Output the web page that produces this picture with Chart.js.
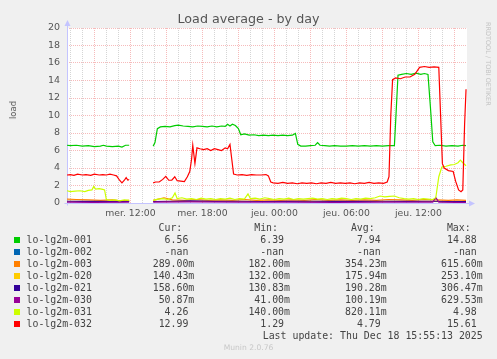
<!doctype html>
<html lang="fr">
  <head>
    <meta charset="utf-8" />
    <title>Load average - by day</title>
    <style>
      html,
      body {
        margin: 0;
        padding: 0;
        background: #f0f0f0;
      }

      .graph {
        position: relative;
        width: 497px;
        height: 359px;
        overflow: hidden;
        font-family: "DejaVu Sans", sans-serif;
        color: #555555;
      }

      #loadChart {
        position: absolute;
        left: 0;
        top: 0;
      }

      .graph-title {
        position: absolute;
        left: 0;
        top: 11px;
        width: 497px;
        text-align: center;
        font-size: 12.7px;
        line-height: 16px;
      }

      .axis-title {
        position: absolute;
        left: 12.5px;
        top: 110px;
        transform: translate(-50%, -50%) rotate(-90deg);
        font-size: 8.5px;
        white-space: nowrap;
      }

      .rrd-credit {
        position: absolute;
        left: 491px;
        top: 22px;
        transform-origin: 0 0;
        transform: rotate(90deg);
        font-size: 6.5px;
        line-height: 7px;
        color: #c4c4c4;
        white-space: nowrap;
      }

      .legend-row {
        position: absolute;
        left: 0;
        width: 497px;
        height: 12px;
        font-family: "DejaVu Sans Mono", monospace;
        font-size: 9.9px;
        line-height: 12px;
        color: #444444;
        white-space: pre;
      }

      .legend-row span {
        position: absolute;
        top: 0;
      }

      .legend-box {
        position: absolute;
        left: 14px;
        top: 3px;
        width: 6px;
        height: 6px;
      }

      .munin-version {
        position: absolute;
        left: 0;
        top: 343px;
        width: 497px;
        text-align: center;
        font-size: 7.6px;
        line-height: 10px;
        color: #c8c8c8;
      }
    </style>
  </head>

  <body>
    <div class="graph">
      <canvas id="loadChart" width="497" height="359"></canvas>
      <div class="graph-title">Load average - by day</div>
      <div class="axis-title">load</div>
      <div class="rrd-credit">RRDTOOL / TOBI OETIKER</div>
      <div id="legend"></div>
      <div class="munin-version">Munin 2.0.76</div>
    </div>

    <script src="https://cdn.jsdelivr.net/npm/chart.js@4.4.0/dist/chart.umd.min.js"></script>
    <script type="text/javascript">
      // time axis: hours counted from Wednesday 00:00
      const xMin = 6.72;
      const xMax = 40.05;
      const xTickHours = [12, 18, 24, 30, 36];
      const xTickLabels = ["mer. 12:00", "mer. 18:00", "jeu. 00:00", "jeu. 06:00", "jeu. 12:00"];
      const yTickValues = [0, 2, 4, 6, 8, 10, 12, 14, 16, 18, 20];

      const seriesNames = ["lo-lg2m-001", "lo-lg2m-002", "lo-lg2m-003", "lo-lg2m-020", "lo-lg2m-021", "lo-lg2m-030", "lo-lg2m-031", "lo-lg2m-032"];
      const seriesColors = ["#00cc00", "#0066b3", "#ff8000", "#ffcc00", "#330099", "#990099", "#ccff00", "#ff0000"];
      const curValues = ["6.56", "-nan", "289.00m", "140.43m", "158.60m", "50.87m", "4.26", "12.99"];
      const minValues = ["6.39", "-nan", "182.00m", "132.00m", "130.83m", "41.00m", "140.00m", "1.29"];
      const avgValues = ["7.94", "-nan", "354.23m", "175.94m", "190.28m", "100.19m", "820.11m", "4.79"];
      const maxValues = ["14.88", "-nan", "615.60m", "253.10m", "306.47m", "629.53m", "4.98", "15.61"];

      // [hour, load] pairs, null = no data
      const lo001 = [
        [6.72, 6.6], [7.0, 6.55], [7.5, 6.6], [8.0, 6.5], [8.5, 6.55], [9.0, 6.45], [9.5, 6.5], [9.75, 6.6],
        [10.0, 6.5], [10.5, 6.45], [11.0, 6.5], [11.3, 6.4], [11.6, 6.6], [11.9, 6.6], [12.8, null],
        [13.9, 6.5], [14.05, 6.9], [14.25, 8.5], [14.5, 8.7], [14.9, 8.75], [15.3, 8.7], [15.7, 8.85], [16.0, 8.9],
        [16.4, 8.8], [16.8, 8.75], [17.2, 8.7], [17.6, 8.8], [18.0, 8.75], [18.4, 8.7], [18.8, 8.8], [19.2, 8.7],
        [19.6, 8.8], [19.9, 8.75], [20.1, 9.0], [20.3, 8.8], [20.5, 9.0], [20.75, 8.85], [21.0, 8.5], [21.2, 7.8],
        [21.5, 7.9], [21.9, 7.75], [22.3, 7.8], [22.7, 7.7], [23.1, 7.75], [23.5, 7.7], [23.9, 7.75], [24.3, 7.7],
        [24.7, 7.75], [25.1, 7.7], [25.5, 7.75], [25.75, 7.95], [25.95, 6.7], [26.2, 6.5], [26.6, 6.5], [27.0, 6.55],
        [27.4, 6.6], [27.6, 6.9], [27.8, 6.6], [28.2, 6.55], [28.6, 6.5], [29.0, 6.55], [29.5, 6.5], [30.0, 6.5],
        [30.5, 6.55], [31.0, 6.5], [31.5, 6.55], [32.0, 6.5], [32.5, 6.55], [33.0, 6.5], [33.5, 6.55], [34.0, 6.55],
        [34.15, 10.5], [34.3, 14.6], [34.6, 14.7], [35.0, 14.8], [35.4, 14.7], [35.8, 14.85], [36.2, 14.7], [36.5, 14.8],
        [36.8, 14.7], [37.0, 11.0], [37.2, 7.0], [37.4, 6.55], [37.8, 6.6], [38.3, 6.5], [38.8, 6.55], [39.3, 6.5],
        [39.7, 6.6], [39.97, 6.56],
      ];
      const lo002 = [];
      const lo003 = [
        [6.72, 0.45], [7.5, 0.4], [8.5, 0.35], [9.5, 0.3], [10.5, 0.35], [11.2, 0.25], [11.9, 0.3], [12.8, null],
        [13.9, 0.3], [14.8, 0.6], [15.5, 0.35], [16.5, 0.3], [17.5, 0.4], [18.5, 0.3], [19.5, 0.35], [20.5, 0.3],
        [21.5, 0.4], [22.5, 0.3], [23.5, 0.35], [24.5, 0.3], [25.5, 0.35], [26.5, 0.3], [27.5, 0.4], [28.5, 0.3],
        [29.5, 0.35], [30.5, 0.3], [31.5, 0.35], [32.5, 0.3], [33.5, 0.4], [34.5, 0.35], [35.5, 0.3], [36.5, 0.4],
        [37.5, 0.35], [38.5, 0.3], [39.2, 0.35], [39.97, 0.29],
      ];
      const lo020 = [
        [6.72, 0.2], [8.0, 0.18], [9.5, 0.2], [11.0, 0.17], [11.9, 0.18], [12.8, null],
        [13.9, 0.17], [15.5, 0.2], [17.0, 0.18], [19.0, 0.22], [21.0, 0.18], [23.0, 0.19], [25.0, 0.17], [27.0, 0.18],
        [29.0, 0.2], [31.0, 0.17], [33.0, 0.18], [35.0, 0.2], [37.0, 0.18], [38.5, 0.16], [39.97, 0.14],
      ];
      const lo021 = [
        [6.72, 0.2], [8.0, 0.18], [9.5, 0.2], [11.0, 0.16], [11.9, 0.18], [12.8, null],
        [13.9, 0.17], [15.5, 0.2], [17.0, 0.25], [19.0, 0.18], [21.0, 0.2], [23.0, 0.17], [25.0, 0.19], [27.0, 0.2],
        [29.0, 0.18], [31.0, 0.19], [33.0, 0.2], [35.0, 0.18], [37.0, 0.2], [38.5, 0.17], [39.97, 0.16],
      ];
      const lo030 = [
        [6.72, 0.1], [9.0, 0.08], [11.9, 0.09], [12.8, null],
        [13.9, 0.1], [17.0, 0.12], [21.0, 0.09], [25.0, 0.1], [29.0, 0.08], [33.0, 0.1], [37.2, 0.1], [37.45, 0.63],
        [37.7, 0.1], [39.97, 0.05],
      ];
      const lo031 = [
        [6.72, 1.4], [7.0, 1.3], [7.4, 1.35], [7.8, 1.4], [8.2, 1.3], [8.5, 1.45], [8.8, 1.5], [8.95, 1.9],
        [9.1, 1.6], [9.4, 1.65], [9.7, 1.55], [9.85, 1.5], [10.0, 0.4], [10.3, 0.3], [10.7, 0.35], [11.1, 0.25],
        [11.5, 0.35], [11.9, 0.3], [12.8, null],
        [13.9, 0.3], [14.3, 0.45], [14.7, 0.5], [15.1, 0.4], [15.5, 0.6], [15.72, 1.15], [15.9, 0.5], [16.3, 0.6],
        [16.7, 0.45], [17.1, 0.5], [17.5, 0.4], [17.9, 0.55], [18.3, 0.45], [18.7, 0.5], [19.1, 0.4], [19.5, 0.5],
        [19.9, 0.45], [20.3, 0.55], [20.7, 0.4], [21.1, 0.5], [21.5, 0.45], [21.8, 1.05], [22.0, 0.5], [22.4, 0.55],
        [22.8, 0.45], [23.2, 0.6], [23.6, 0.5], [24.0, 0.4], [24.4, 0.5], [24.8, 0.45], [25.2, 0.55], [25.6, 0.4],
        [26.0, 0.5], [26.4, 0.45], [26.8, 0.5], [27.2, 0.55], [27.6, 0.45], [28.0, 0.5], [28.4, 0.4], [28.8, 0.5],
        [29.2, 0.45], [29.6, 0.55], [30.0, 0.5], [30.4, 0.4], [30.8, 0.5], [31.2, 0.45], [31.6, 0.55], [32.0, 0.5],
        [32.4, 0.6], [32.8, 0.8], [33.2, 0.7], [33.6, 0.75], [34.0, 0.8], [34.4, 0.6], [34.8, 0.5], [35.2, 0.45],
        [35.6, 0.5], [36.0, 0.4], [36.4, 0.5], [36.8, 0.45], [37.2, 0.4], [37.45, 0.6], [37.7, 3.0], [37.95, 4.1],
        [38.3, 4.2], [38.7, 4.35], [39.0, 4.4], [39.3, 4.6], [39.5, 4.9], [39.7, 4.6], [39.97, 4.26],
      ];
      const lo032 = [
        [6.72, 3.2], [7.0, 3.25], [7.3, 3.15], [7.6, 3.3], [8.0, 3.2], [8.3, 3.25], [8.7, 3.15], [9.0, 3.3],
        [9.4, 3.2], [9.7, 3.25], [10.0, 3.2], [10.3, 3.3], [10.6, 3.2], [10.85, 3.1], [11.1, 2.6], [11.3, 2.3],
        [11.5, 2.6], [11.65, 2.9], [11.8, 2.6], [11.9, 2.7], [12.8, null],
        [13.9, 2.3], [14.1, 2.4], [14.4, 2.4], [14.7, 2.7], [14.95, 3.05], [15.2, 2.6], [15.45, 2.6], [15.7, 3.0],
        [15.9, 2.55], [16.2, 2.5], [16.5, 2.45], [16.75, 3.0], [16.95, 3.6], [17.1, 5.0], [17.2, 6.6], [17.38, 4.5],
        [17.55, 6.3], [17.8, 6.2], [18.1, 6.1], [18.4, 6.2], [18.7, 6.0], [19.0, 6.2], [19.3, 6.1], [19.6, 6.0],
        [19.9, 6.3], [20.1, 6.2], [20.3, 6.7], [20.45, 5.0], [20.6, 3.3], [20.9, 3.2], [21.3, 3.25], [21.7, 3.15],
        [22.1, 3.25], [22.5, 3.2], [22.9, 3.2], [23.3, 3.25], [23.5, 3.1], [23.7, 2.4], [23.9, 2.3], [24.3, 2.25],
        [24.7, 2.35], [25.1, 2.25], [25.5, 2.3], [25.9, 2.2], [26.3, 2.3], [26.7, 2.25], [27.1, 2.3], [27.5, 2.2],
        [27.9, 2.3], [28.3, 2.25], [28.7, 2.35], [29.1, 2.25], [29.5, 2.3], [29.9, 2.25], [30.3, 2.3], [30.7, 2.2],
        [31.1, 2.3], [31.5, 2.25], [31.9, 2.35], [32.3, 2.25], [32.7, 2.3], [33.1, 2.25], [33.4, 2.4], [33.55, 3.0],
        [33.7, 10.0], [33.85, 14.1], [34.1, 14.3], [34.5, 14.2], [34.9, 14.4], [35.3, 14.4], [35.7, 14.7], [35.9, 15.1],
        [36.1, 15.5], [36.5, 15.6], [36.9, 15.5], [37.3, 15.55], [37.7, 15.5], [37.85, 10.0], [38.0, 4.5], [38.15, 4.0],
        [38.5, 3.7], [38.9, 3.6], [39.1, 2.5], [39.35, 1.5], [39.55, 1.3], [39.7, 1.5], [39.85, 9.0], [39.97, 12.99],
      ];

      const seriesData = [lo001, lo002, lo003, lo020, lo021, lo030, lo031, lo032];

      // legend table below the graph
      const legend = document.getElementById("legend");
      function addRow(top, cells) {
        const row = document.createElement("div");
        row.className = "legend-row";
        row.style.top = top + "px";
        cells.forEach((c) => {
          const span = document.createElement("span");
          span.textContent = c.text;
          if (c.left !== undefined) span.style.left = c.left + "px";
          if (c.right !== undefined) span.style.right = 497 - c.right + "px";
          row.appendChild(span);
        });
        legend.appendChild(row);
        return row;
      }
      const colRights = [194.3, 290, 386.7, 482.7];
      const pad = (v) => (v.endsWith("m") ? v : v + " ");
      addRow(222, ["Cur:", "Min:", "Avg:", "Max:"].map((t, i) => ({ text: t, right: colRights[i] - 12 })));
      seriesNames.forEach((name, i) => {
        const vals = [curValues[i], minValues[i], avgValues[i], maxValues[i]];
        const row = addRow(234 + i * 12, [{ text: name, left: 26.5 }].concat(vals.map((v, j) => ({ text: pad(v), right: colRights[j] }))));
        const box = document.createElement("div");
        box.className = "legend-box";
        box.style.background = seriesColors[i];
        row.appendChild(box);
      });
      addRow(330, [{ text: "Last update: Thu Dec 18 15:55:13 2025", right: 482.7 }]);

      // white plot area and the lavender axes with arrows
      const muninFrame = {
        id: "muninFrame",
        beforeDraw(chart) {
          const { ctx, chartArea: a } = chart;
          ctx.save();
          ctx.fillStyle = "#ffffff";
          ctx.fillRect(a.left, a.top, a.right - a.left, a.bottom - a.top);
          ctx.restore();
        },
        beforeDatasetsDraw(chart) {
          const { ctx, chartArea: a } = chart;
          const x0 = Math.round(a.left) + 0.5;
          const y0 = Math.round(a.bottom) + 0.5;
          ctx.save();
          ctx.strokeStyle = "#c4c4ff";
          ctx.fillStyle = "#c4c4ff";
          ctx.lineWidth = 1;
          ctx.beginPath();
          ctx.moveTo(x0, y0 + 2);
          ctx.lineTo(x0, a.top - 4);
          ctx.moveTo(x0 - 3, y0);
          ctx.lineTo(a.right + 3, y0);
          ctx.stroke();
          ctx.beginPath();
          ctx.moveTo(x0 - 3, a.top - 2);
          ctx.lineTo(x0 + 3, a.top - 2);
          ctx.lineTo(x0, a.top - 8);
          ctx.closePath();
          ctx.fill();
          ctx.beginPath();
          ctx.moveTo(a.right + 2, y0 - 3);
          ctx.lineTo(a.right + 2, y0 + 3);
          ctx.lineTo(a.right + 8, y0);
          ctx.closePath();
          ctx.fill();
          ctx.restore();
        },
      };

      const majorGrid = "rgba(230, 60, 60, 0.35)";
      const minorGrid = "rgba(150, 150, 150, 0.4)";

      const ctx = document.getElementById("loadChart").getContext("2d");
      new Chart(ctx, {
        type: "line",
        data: {
          datasets: seriesData.map((pts, i) => ({
            label: seriesNames[i],
            data: pts.map(([x, y]) => ({ x: x, y: y })),
            borderColor: seriesColors[i],
            backgroundColor: seriesColors[i],
            borderWidth: 1.2,
            pointRadius: 0,
            fill: false,
            tension: 0,
            order: seriesData.length - i,
          })),
        },
        options: {
          responsive: false,
          animation: false,
          layout: { padding: { left: 0, right: 30, top: 28, bottom: 136 } },
          plugins: {
            legend: { display: false },
            tooltip: { enabled: false },
          },
          scales: {
            x: {
              type: "linear",
              min: xMin,
              max: xMax,
              afterBuildTicks: (scale) => {
                const ticks = [];
                for (let h = 7; h <= 39; h++) ticks.push({ value: h });
                scale.ticks = ticks;
              },
              afterFit: (scale) => {
                scale.height = 20;
              },
              grid: {
                drawTicks: false,
                lineWidth: 1,
                color: (c) => (c.tick.value % 3 === 0 ? majorGrid : minorGrid),
              },
              border: { display: false, dash: [1, 1] },
              ticks: {
                autoSkip: false,
                maxRotation: 0,
                padding: 5,
                color: "#555555",
                font: { family: "DejaVu Sans", size: 9.3 },
                callback: (v) => {
                  const k = xTickHours.indexOf(v);
                  return k >= 0 ? xTickLabels[k] : "";
                },
              },
            },
            y: {
              min: 0,
              max: 20,
              afterBuildTicks: (scale) => {
                const ticks = [];
                for (let v = 0; v <= 20; v++) ticks.push({ value: v });
                scale.ticks = ticks;
              },
              afterFit: (scale) => {
                scale.width = 67;
              },
              grid: {
                drawTicks: false,
                lineWidth: 1,
                color: (c) => (c.tick.value === 0 ? "rgba(0,0,0,0)" : c.tick.value % 2 === 0 ? majorGrid : minorGrid),
              },
              border: { display: false, dash: [1, 1] },
              ticks: {
                padding: 7,
                color: "#555555",
                font: { family: "DejaVu Sans", size: 9.5 },
                callback: (v) => (yTickValues.includes(v) ? String(v) : ""),
              },
            },
          },
        },
        plugins: [muninFrame],
      });
    </script>
  </body>
</html>
